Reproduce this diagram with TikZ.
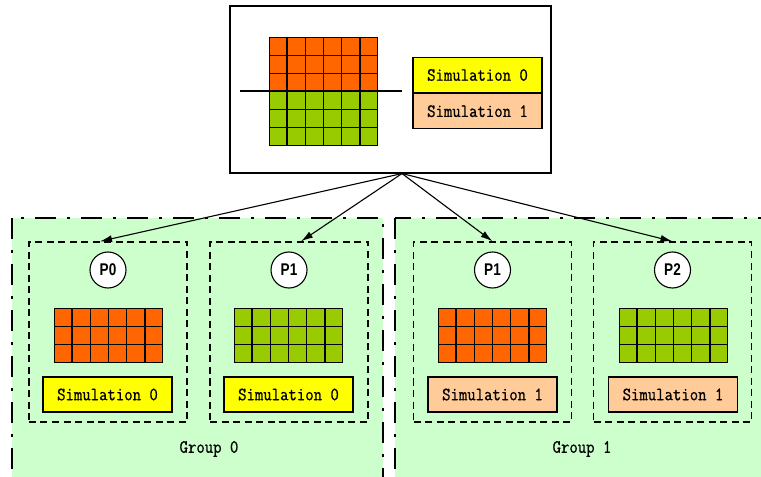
\documentclass[tikz,border=0pt]{standalone}
\usepackage{fontspec}
\setmainfont{Latin Modern Mono}[FakeBold=0.8, FakeStretch=0.87]
\newfontfamily\labelsans{Liberation Sans}[FakeStretch=0.8]
\usetikzlibrary{calc,arrows.meta}
\definecolor{cellorange}{HTML}{FF6600}
\definecolor{cellgreen}{HTML}{99CC00}
\definecolor{simyellow}{HTML}{FFFF00}
\definecolor{simpeach}{HTML}{FFCC99}
\definecolor{groupbg}{HTML}{CCFFCC}

\tikzset{
  gridbox/.style={draw=black, line width=1.4bp, inner sep=0pt, minimum width=108bp, minimum height=54bp},
  gridline/.style={line width=1.4bp},
  simbox/.style={draw=black, line width=1.2bp, inner sep=0pt, minimum width=129bp, minimum height=35bp,
    font=\fontsize{18.8}{20}\selectfont},
  procbox/.style={draw=black, dash pattern=on 7bp off 4.5bp, line width=1.3bp, inner sep=0pt,
    minimum width=158bp, minimum height=180bp},
  proc/.style={circle, draw=black, fill=white, line width=1.1bp, minimum size=36bp, inner sep=0pt,
    font=\labelsans\bfseries\fontsize{17}{19}\selectfont},
  groupbox/.style={fill=groupbg, draw=black, line width=2.6bp, dash pattern=on 21bp off 11bp on 3bp off 11bp},
  grouplabel/.style={font=\fontsize{18.8}{20}\selectfont},
  link/.style={-{Latex[length=12bp,width=7bp]}, line width=1.1bp},
}

% a block of cells: name, centre x, centre y, fill colour
\newcommand\cellblock[4]{%
  \node[gridbox, fill=#4] (#1) at (#2,#3) {};
  \foreach \k in {1,...,5}
    \draw[gridline] ($(#1.north west)!\k/6!(#1.north east)$) -- ($(#1.south west)!\k/6!(#1.south east)$);
  \foreach \k in {1,2}
    \draw[gridline] ($(#1.north west)!\k/3!(#1.south west)$) -- ($(#1.north east)!\k/3!(#1.south east)$);
}

\begin{document}
\begin{tikzpicture}[x=1bp, y=-1bp]
  \useasboundingbox (0,0) rectangle (761,477);
  \clip (0,0) rectangle (761,477);
  \fill[white] (0,0) rectangle (761,477);

  % process groups
  \draw[groupbox] (12,218) rectangle (383,490);
  \draw[groupbox] (395,218) rectangle (775,490);
  \node[grouplabel] (g0) at (209,449) {Group 0};
  \node[grouplabel] (g1) at (582,449) {Group 1};

  % overview of the whole domain
  \node[draw=black, line width=1.1bp, fill=white, minimum width=321bp, minimum height=167bp, inner sep=0pt]
    (top) at (390.5,89.5) {};
  \cellblock{topup}{323.5}{64.5}{cellorange}
  \cellblock{toplow}{323.5}{118.5}{cellgreen}
  \coordinate (cutL) at (240,91);
  \coordinate (cutR) at (402,91);
  \draw[line width=2.2bp] (cutL) -- (cutR);
  \node[simbox, fill=simyellow] (sim0) at (477.5,75) {Simulation 0};
  \node[simbox, fill=simpeach, anchor=north] (sim1) at (sim0.south) {Simulation 1};

  % processes
  \node[procbox] (b0) at (108,332) {};
  \node[procbox] (b1) at (289,332) {};
  \node[procbox] (b2) at (492.5,332) {};
  \node[procbox] (b3) at (672.5,332) {};

  \node[proc] (p0) at (108,270) {P0};
  \node[proc] (p1) at (289,270) {P1};
  \node[proc] (p1b) at (492.5,270) {P1};
  \node[proc] (p2) at (672.5,270) {P2};

  \cellblock{c0}{108.5}{335.5}{cellorange}
  \cellblock{c1}{288.5}{335.5}{cellgreen}
  \cellblock{c2}{492.5}{335.5}{cellorange}
  \cellblock{c3}{673.5}{335.5}{cellgreen}

  \node[simbox, fill=simyellow] (s0) at (107.5,394.5) {Simulation 0};
  \node[simbox, fill=simyellow] (s1) at (288.5,394.5) {Simulation 0};
  \node[simbox, fill=simpeach] (s2) at (492.5,394.5) {Simulation 1};
  \node[simbox, fill=simpeach] (s3) at (673,394.5) {Simulation 1};

  % distribution of the domain to the processes
  \coordinate (fan) at ([xshift=11.5bp]top.south);
  \draw[link] (fan) -- ([xshift=-8bp]b0.north);
  \draw[link] (fan) -- ([xshift=12bp]b1.north);
  \draw[link] (fan) -- (b2.north);
  \draw[link] (fan) -- (b3.north);
\end{tikzpicture}
\end{document}
